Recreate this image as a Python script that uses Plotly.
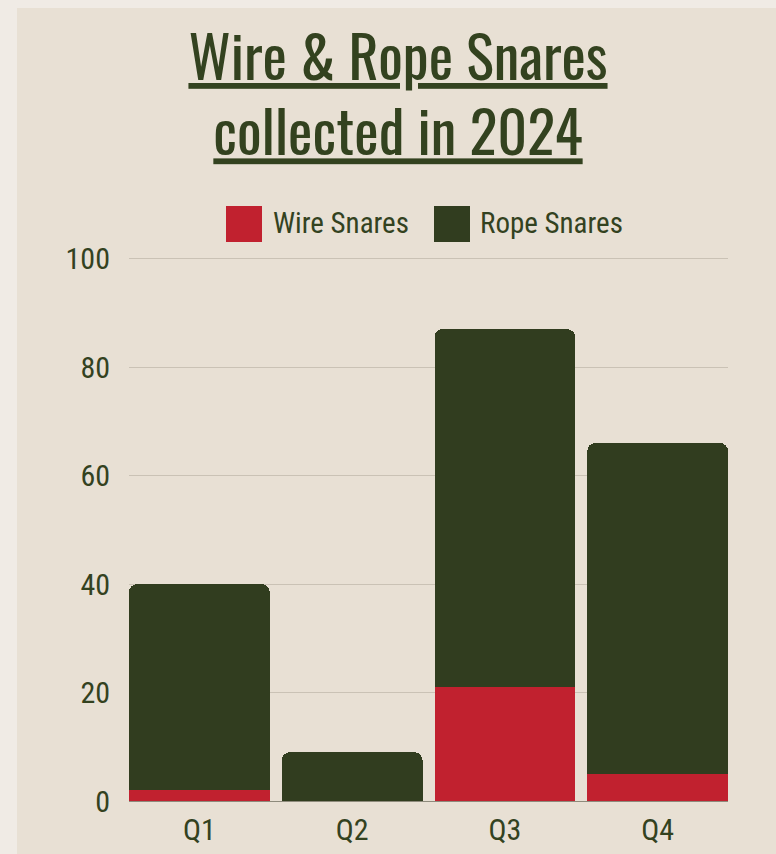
import plotly.graph_objects as go

# Quarterly snare counts for 2024
quarters = ["Q1", "Q2", "Q3", "Q4"]
wire_snares = [2, 0, 21, 5]
rope_snares = [38, 9, 66, 61]

series_names = ["Wire Snares", "Rope Snares"]
series_colors = ["#c1212f", "#313d1f"]

y_ticks = [0, 20, 40, 60, 80, 100]

TEXT = "#33421f"
PANEL = "#e8e0d4"
PAGE = "#f0ebe5"
TICK_FONT = dict(family="Roboto Condensed", size=30, color=TEXT)

fig = go.Figure()
for name, vals, col in zip(series_names, [wire_snares, rope_snares], series_colors):
    fig.add_trace(go.Bar(x=quarters, y=vals, name=name, marker=dict(color=col, line=dict(width=0)),
                         showlegend=False))

# Plot area geometry (pixels) used to place the custom legend and panel
W, H = 776, 854
L, R, T, B = 129, 48, 257, 53
pw, ph = W - L - R, H - T - B

def px_x(p):
    return (p - L) / pw

def px_y(p):
    return (H - B - p) / ph

shapes = [
    # beige card behind the whole chart
    dict(type="rect", xref="paper", yref="paper", layer="below",
         x0=px_x(17), x1=px_x(W + 20), y0=px_y(H + 20), y1=px_y(8),
         fillcolor=PANEL, line=dict(width=0)),
]
annotations = []

# legend: large square swatches followed by series names
legend_items = [(226, 271), (434, 478)]
for (sx, tx), name, col in zip(legend_items, series_names, series_colors):
    shapes.append(dict(type="rect", xref="paper", yref="paper",
                       x0=px_x(sx), x1=px_x(sx + 36), y0=px_y(242), y1=px_y(206),
                       fillcolor=col, line=dict(width=0)))
    annotations.append(dict(xref="paper", yref="paper", x=px_x(tx), y=px_y(223),
                            xanchor="left", yanchor="middle", showarrow=False,
                            text=name, font=dict(family="Roboto Condensed", size=29, color=TEXT)))

# category range so that outer bars touch the plot edges
gap_px = 12
pitch = (pw + gap_px) / 4
bar_w = pitch - gap_px
half = bar_w / 2 / pitch

fig.update_layout(
    width=W, height=H,
    margin=dict(l=L, r=R, t=T, b=B, autoexpand=False),
    paper_bgcolor=PAGE,
    plot_bgcolor="rgba(0,0,0,0)",
    barmode="stack",
    bargap=gap_px / pitch,
    barcornerradius=8,
    title=dict(text="Wire & Rope Snares<br>collected in 2024",
               x=398 / W, xref="container", xanchor="center",
               y=1 - 80 / H, yref="container", yanchor="top",
               font=dict(family="Oswald", size=58, color=TEXT, weight=400, lineposition="under")),
    xaxis=dict(range=[-half, 3 + half], showgrid=False, tickfont=TICK_FONT, automargin=False,
               ticks="", ticklabelstandoff=8, showline=False, zeroline=False),
    # small headroom keeps the gridline at 100 from being clipped at the edge
    yaxis=dict(range=[0, 100.3], tickvals=y_ticks, tickfont=TICK_FONT, showgrid=True, automargin=False,
               gridcolor="#cac2b5", gridwidth=1, zeroline=True, zerolinecolor="#8e8b7c",
               zerolinewidth=1, ticks="", ticklabelstandoff=18, showline=False),
    shapes=shapes,
    annotations=annotations,
)

fig.write_html("out.html")
